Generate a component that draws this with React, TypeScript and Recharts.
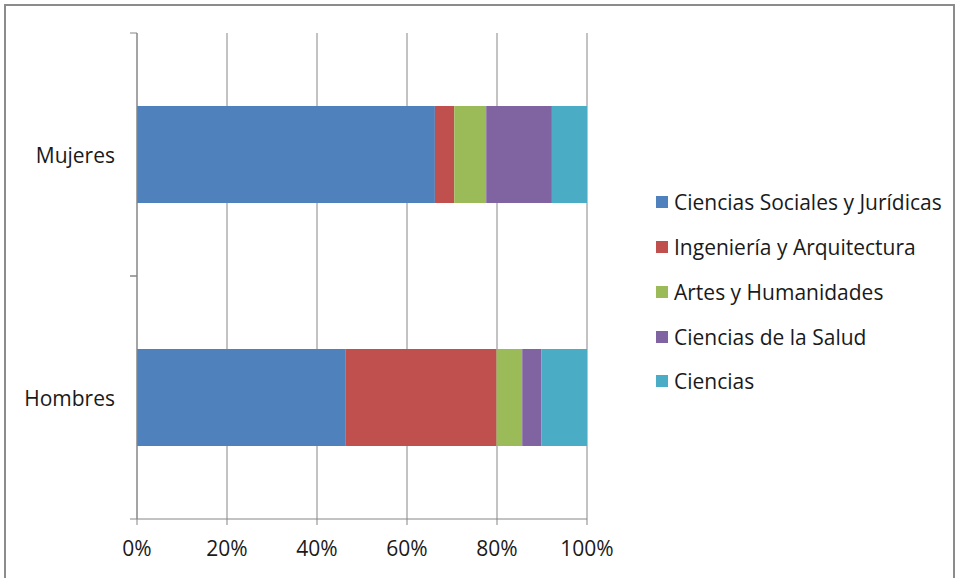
import React from "react";
import { BarChart, Bar, XAxis, YAxis, CartesianGrid } from "recharts";

const categories = ["Mujeres", "Hombres"];
const seriesNames = [
  "Ciencias Sociales y Jurídicas",
  "Ingeniería y Arquitectura",
  "Artes y Humanidades",
  "Ciencias de la Salud",
  "Ciencias",
];
const sociales = [66.2, 46.4];
const ingenieria = [4.3, 33.5];
const artes = [7.1, 5.7];
const salud = [14.6, 4.3];
const ciencias = [7.8, 10.1];
const xTicks = [0, 20, 40, 60, 80, 100];

const colors = ["#4F81BD", "#C0504D", "#9BBB59", "#8064A2", "#4BACC6"];
const seriesValues = [sociales, ingenieria, artes, salud, ciencias];

const data = categories.map((name, i) => {
  const row: any = { name };
  seriesNames.forEach((s, j) => {
    row[s] = seriesValues[j][i];
  });
  return row;
});

const W = 958;
const H = 578;
const X_AXIS_H = 59;
const M = { top: 33, right: 371, bottom: 0, left: 0 };
const Y_AXIS_W = 137;
const FONT = "'Open Sans', Lato, sans-serif";
const FS = 21;
const AXIS = "#868686";

const plotH = H - M.top - X_AXIS_H;
const halfBand = plotH / categories.length / 2;

const CategoryTick = ({ y, payload }: any) => {
  const ax = Y_AXIS_W;
  return (
    <g>
      <line x1={ax - 7} x2={ax} y1={y - halfBand} y2={y - halfBand} stroke={AXIS} />
      <line x1={ax - 7} x2={ax} y1={y + halfBand} y2={y + halfBand} stroke={AXIS} />
      <text
        x={ax - 22}
        y={y}
        textAnchor="end"
        dominantBaseline="central"
        fontFamily={FONT}
        fontSize={FS}
        fill="#1a1a1a"
      >
        {payload.value}
      </text>
    </g>
  );
};

export default function App() {
  return (
    <div style={{ position: "absolute", left: 0, top: 0, width: W, height: H, background: "#fff" }}>
      <div
        style={{
          position: "absolute",
          left: 4,
          top: 4,
          width: W - 7,
          height: H,
          border: "2px solid #8c8c8c",
          borderBottom: "none",
          boxSizing: "border-box",
        }}
      />
      <BarChart
        width={W}
        height={H}
        data={data}
        layout="vertical"
        margin={M}
        barCategoryGap="30%"
        style={{ position: "absolute", left: 0, top: 0 }}
      >
        <CartesianGrid horizontal={false} stroke={AXIS} strokeWidth={1} />
        <XAxis
          type="number"
          domain={[0, 100]}
          ticks={xTicks}
          tickFormatter={(v: number) => `${v}%`}
          stroke={AXIS}
          height={X_AXIS_H}
          tickSize={6}
          tickMargin={16}
          tick={{ fontFamily: FONT, fontSize: FS, fill: "#1a1a1a" }}
        />
        <YAxis
          type="category"
          dataKey="name"
          width={Y_AXIS_W}
          stroke={AXIS}
          tickLine={false}
          tick={<CategoryTick />}
        />
        {seriesNames.map((s, i) => (
          <Bar key={s} dataKey={s} stackId="a" fill={colors[i]} isAnimationActive={false} />
        ))}
      </BarChart>
      <div style={{ position: "absolute", left: 656, top: 180, fontFamily: FONT, fontSize: FS, color: "#1a1a1a" }}>
        {seriesNames.map((s, i) => (
          <div key={s} style={{ display: "flex", alignItems: "center", height: 44.75 }}>
            <span style={{ width: 12, height: 12, background: colors[i], marginRight: 6, display: "inline-block" }} />
            <span>{s}</span>
          </div>
        ))}
      </div>
    </div>
  );
}
